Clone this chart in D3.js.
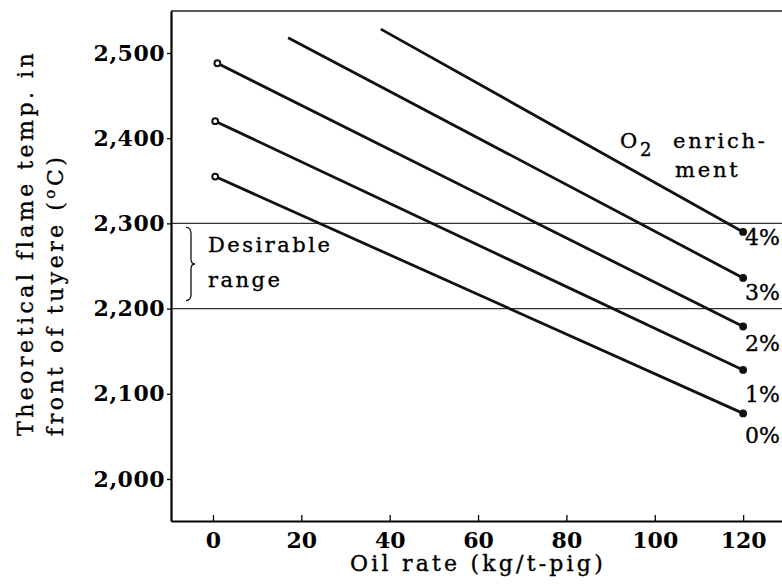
<!DOCTYPE html>
<html>
<head>
<meta charset="utf-8">
<script src="https://cdn.jsdelivr.net/npm/d3@7"></script>
<style>
  body { margin: 0; background: #fff; }
  svg { display: block; font-family: 'DejaVu Serif', serif; }
  .ink { stroke: #000; stroke-width: 0.35px; }
</style>
</head>
<body>
<svg id="chart" width="782" height="587"></svg>
<script>
// O2 enrichment levels and the end points of each line
const o2Levels = ['0%', '1%', '2%', '3%', '4%'];
const startOil = [0.5, 0.5, 1, 17, 38];
const startTemp = [2355, 2420, 2488, 2518, 2528];
const endOil = [120, 120, 120, 120, 120];
const endTemp = [2077, 2128, 2179, 2236, 2290];
const hasStartDot = [true, true, true, false, false];

const xTicks = [0, 20, 40, 60, 80, 100, 120];
const yTicks = [2000, 2100, 2200, 2300, 2400, 2500];
const desirableRange = [2200, 2300];

const width = 782;
const height = 587;
const margin = { top: 11, right: 0, bottom: 66, left: 171 };

const svg = d3.select('#chart');

const x = d3.scaleLinear()
  .domain([-9.5, 128.8])
  .range([margin.left, width - margin.right]);
const y = d3.scaleLinear()
  .domain([1950.7, 2549.3])
  .range([height - margin.bottom, margin.top]);

// frame top
svg.append('line')
  .attr('x1', margin.left).attr('x2', width)
  .attr('y1', margin.top).attr('y2', margin.top)
  .attr('stroke', '#222').attr('stroke-width', 1.5);

// desirable range limits
svg.selectAll('line.range')
  .data(desirableRange)
  .join('line')
  .attr('class', 'range')
  .attr('x1', margin.left).attr('x2', width)
  .attr('y1', (d) => y(d)).attr('y2', (d) => y(d))
  .attr('stroke', '#333').attr('stroke-width', 1.2);

// y axis
const yAxis = svg.append('g')
  .attr('transform', `translate(${margin.left},0)`)
  .call(d3.axisLeft(y).tickValues(yTicks).tickFormat(d3.format(','))
    .tickSize(4).tickSizeOuter(0).tickPadding(2));
yAxis.select('.domain').attr('stroke', '#000').attr('stroke-width', 2.2);
yAxis.selectAll('.tick line').attr('stroke', '#000').attr('stroke-width', 1.3);
yAxis.selectAll('text')
  .attr('font-family', 'DejaVu Serif, serif')
  .attr('font-size', 22).attr('font-weight', 'bold')
  .attr('letter-spacing', 0.5)
  .attr('fill', '#000');

// x axis
const xAxis = svg.append('g')
  .attr('transform', `translate(0,${height - margin.bottom})`)
  .call(d3.axisBottom(x).tickValues(xTicks)
    .tickSizeInner(-6).tickSizeOuter(0).tickPadding(11));
xAxis.select('.domain').attr('stroke', '#000').attr('stroke-width', 2);
xAxis.selectAll('.tick line').attr('stroke', '#000').attr('stroke-width', 1.3);
xAxis.selectAll('text')
  .attr('font-family', 'DejaVu Serif, serif')
  .attr('font-size', 22).attr('font-weight', 'bold')
  .attr('fill', '#000');

// series lines
const lineData = o2Levels.map((name, i) => ({
  name,
  pts: [[startOil[i], startTemp[i]], [endOil[i], endTemp[i]]],
  startDot: hasStartDot[i],
}));
const line = d3.line().x((d) => x(d[0])).y((d) => y(d[1]));

const series = svg.selectAll('g.series').data(lineData).join('g').attr('class', 'series');
series.append('path')
  .attr('d', (d) => line(d.pts))
  .attr('fill', 'none').attr('stroke', '#111').attr('stroke-width', 2.8);

// hollow dot at the start, filled dot at the end
series.selectAll('circle')
  .data((d) => (d.startDot ? d.pts.map((p, k) => ({ p, k })) : [{ p: d.pts[1], k: 1 }]))
  .join('circle')
  .attr('cx', (d) => x(d.p[0])).attr('cy', (d) => y(d.p[1]))
  .attr('r', 2.9)
  .attr('fill', (d) => (d.k === 1 ? '#111' : '#fff'))
  .attr('stroke', '#111').attr('stroke-width', 2);

// percentage labels below the end points
const labelDy = [30, 32, 25, 22, 13];
series.append('text')
  .attr('class', 'ink')
  .attr('x', (d) => x(d.pts[1][0]) + 2)
  .attr('y', (d, i) => y(d.pts[1][1]) + labelDy[i])
  .attr('font-size', 22)
  .attr('fill', '#000')
  .text((d) => d.name);

// O2 enrichment note
const note = svg.append('text').attr('class', 'ink')
  .attr('font-size', 21).attr('fill', '#000').attr('letter-spacing', 2.8);
note.append('tspan').attr('x', 620).attr('y', 148).text('O');
note.append('tspan').attr('dy', 8).attr('font-size', 18).attr('letter-spacing', 0).text('2');
note.append('tspan').attr('x', 673).attr('y', 148).text('enrich-');
svg.append('text').attr('class', 'ink').attr('x', 675).attr('y', 177)
  .attr('font-size', 21).attr('letter-spacing', 2.8).attr('fill', '#000').text('ment');

// brace + desirable range note
const bx = 186;
const bTop = y(desirableRange[1]) + 4;
const bBot = y(desirableRange[0]) - 8;
const bMid = (bTop + bBot) / 2;
svg.append('path')
  .attr('d', `M${bx},${bTop} Q${bx + 5},${bTop} ${bx + 5},${bTop + 6} L${bx + 5},${bMid - 5}
    Q${bx + 5},${bMid} ${bx + 9},${bMid} Q${bx + 5},${bMid} ${bx + 5},${bMid + 5}
    L${bx + 5},${bBot - 6} Q${bx + 5},${bBot} ${bx},${bBot}`)
  .attr('fill', 'none').attr('stroke', '#111').attr('stroke-width', 1.3);
svg.append('text').attr('class', 'ink').attr('x', 208).attr('y', 252)
  .attr('font-size', 21).attr('letter-spacing', 2.5).attr('fill', '#000').text('Desirable');
svg.append('text').attr('class', 'ink').attr('x', 208).attr('y', 287)
  .attr('font-size', 21).attr('letter-spacing', 2.5).attr('fill', '#000').text('range');

// axis titles
svg.append('text').attr('class', 'ink')
  .attr('x', 478).attr('y', 571)
  .attr('text-anchor', 'middle')
  .attr('font-size', 22).attr('letter-spacing', 3.2).attr('fill', '#000')
  .text('Oil rate (kg/t-pig)');

const yTitle = svg.append('g').attr('transform', 'translate(0,436) rotate(-90)');
yTitle.append('text').attr('class', 'ink')
  .attr('x', 0).attr('y', 33)
  .attr('font-size', 22).attr('letter-spacing', 3.5).attr('fill', '#000')
  .text('Theoretical flame temp. in');
const t2 = yTitle.append('text').attr('class', 'ink')
  .attr('x', 0).attr('y', 63)
  .attr('font-size', 22).attr('letter-spacing', 3.5).attr('fill', '#000');
t2.append('tspan').text('front of tuyere (');
t2.append('tspan').attr('dy', -8).attr('font-size', 15).text('o');
t2.append('tspan').attr('dy', 8).text('C)');
</script>
</body>
</html>
